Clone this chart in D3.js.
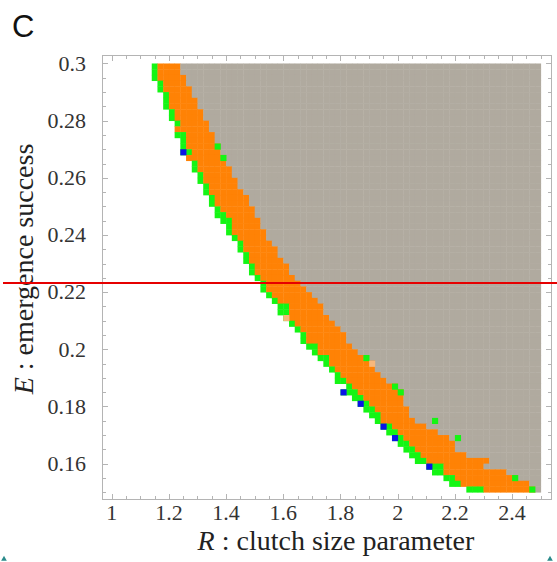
<!DOCTYPE html>
<html>
<head>
<meta charset="utf-8">
<script src="https://cdn.jsdelivr.net/npm/d3@7"></script>
<style>
  body { margin: 0; background: #fff; }
  svg { display: block; }
</style>
</head>
<body>
<svg id="chart" width="557" height="562"></svg>
<script>
(function () {
  "use strict";

  // grid: 75 columns of R (step 0.02 from 1) and 75 rows of E (step 0.002 down from 0.3)
  const R_STEP = 0.02;
  const E_STEP = 0.002;
  const R_START = 1.0;
  const R_END = 2.5;

  // one entry per row, top row (E 0.298..0.300) first: R where the coloured band starts
  const greenFrom = [1.14,1.14,1.14,1.16,1.16,1.18,1.18,1.18,1.20,1.20,1.22,1.22,1.22,1.24,1.24,1.24,1.26,1.28,1.28,1.30,
    1.30,1.32,1.32,1.34,1.34,1.36,1.36,1.38,1.40,1.40,1.42,1.44,1.44,1.46,1.46,1.48,1.48,1.50,1.52,1.52,
    1.54,1.56,1.58,1.58,1.60,1.62,1.64,1.66,1.66,1.68,1.70,1.72,1.74,1.76,1.78,1.78,1.82,1.80,1.84,1.86,
    1.88,1.90,1.92,1.94,1.96,1.98,2.00,2.02,2.04,2.06,2.10,2.12,2.16,2.18,2.24];
  // R where orange starts
  const orangeFrom = [1.16,1.16,1.16,1.18,1.18,1.20,1.20,1.20,1.22,1.22,1.24,1.22,1.26,1.26,1.26,1.28,1.26,1.30,1.30,1.32,
    1.32,1.34,1.34,1.36,1.36,1.38,1.40,1.42,1.42,1.42,1.44,1.46,1.46,1.48,1.48,1.50,1.50,1.52,1.54,1.54,
    1.56,1.58,1.62,1.62,1.62,1.64,1.66,1.68,1.68,1.72,1.72,1.76,1.76,1.78,1.80,1.82,1.84,1.86,1.88,1.90,
    1.92,1.94,1.94,1.98,2.00,2.02,2.04,2.06,2.08,2.10,2.16,2.16,2.20,2.22,2.30];
  // R where grey starts
  const grayFrom = [1.24,1.24,1.26,1.26,1.28,1.28,1.30,1.30,1.32,1.32,1.34,1.34,1.36,1.36,1.38,1.38,1.40,1.40,1.42,1.42,
    1.44,1.44,1.46,1.48,1.48,1.50,1.50,1.52,1.52,1.54,1.54,1.56,1.58,1.58,1.60,1.62,1.62,1.64,1.66,1.68,
    1.70,1.72,1.74,1.74,1.76,1.78,1.80,1.82,1.82,1.84,1.86,1.90,1.92,1.92,1.94,1.96,2.00,2.02,2.02,2.02,
    2.04,2.04,2.06,2.10,2.14,2.18,2.20,2.20,2.24,2.32,2.30,2.38,2.42,2.46,2.48];

  // single cells, [R left edge, E top edge]
  const strayGreen = [[1.36,0.272],[1.38,0.268],[1.88,0.198],[1.98,0.188],[2.00,0.186],[2.12,0.176],[2.20,0.170],[2.40,0.156],[2.46,0.152]];
  const blueCells = [[1.24,0.270],[1.80,0.186],[1.86,0.182],[1.94,0.174],[1.98,0.170],[2.10,0.160]];
  const paleCells = [[1.60,0.212],[1.90,0.196]];

  const xTicks = [1, 1.2, 1.4, 1.6, 1.8, 2, 2.2, 2.4];
  const yTicks = [0.16, 0.18, 0.2, 0.22, 0.24, 0.26, 0.28, 0.3];
  const redLineE = 0.2232;

  const COLORS = {
    green: "#14f514",
    orange: "#ff8205",
    gray: "#b0aa9f",
    blue: "#0a14e6",
    pale: "#f7b77a",
    frame: "#b4b4b4",
    text: "#333"
  };

  const svg = d3.select("#chart");
  const frame = { left: 102, right: 551, top: 55, bottom: 499 };

  // 1 -> 111.7px, 286px per unit of R
  const x = d3.scaleLinear().domain([0.9661, 2.5360]).range([frame.left, frame.right]);
  const y = d3.scaleLinear().domain([0.14762, 0.30297]).range([frame.bottom, frame.top]);

  svg.append("rect").attr("width", 557).attr("height", 562).attr("fill", "#fff");

  // build cell list
  const cells = [];
  const nCols = Math.round((R_END - R_START) / R_STEP);
  greenFrom.forEach((g, i) => {
    const eTop = 0.3 - E_STEP * i;
    const c0 = Math.round((g - R_START) / R_STEP);
    const cO = Math.round((orangeFrom[i] - R_START) / R_STEP);
    const cG = Math.round((grayFrom[i] - R_START) / R_STEP);
    for (let c = c0; c < nCols; c++) {
      const kind = c < cO ? "green" : (c < cG ? "orange" : "gray");
      cells.push({ r: R_START + c * R_STEP, e: eTop, kind });
    }
  });
  strayGreen.forEach(([r, e]) => cells.push({ r, e, kind: "green" }));
  blueCells.forEach(([r, e]) => cells.push({ r, e, kind: "blue" }));
  paleCells.forEach(([r, e]) => cells.push({ r, e, kind: "pale" }));

  svg.append("g").attr("class", "cells")
    .selectAll("rect")
    .data(cells)
    .join("rect")
    .attr("x", (d) => x(d.r))
    .attr("y", (d) => y(d.e))
    .attr("width", (d) => x(d.r + R_STEP) - x(d.r) + 0.4)
    .attr("height", (d) => y(d.e - E_STEP) - y(d.e) + 0.4)
    .attr("fill", (d) => COLORS[d.kind]);

  // frame
  svg.append("rect")
    .attr("x", frame.left + 0.5).attr("y", frame.top + 0.5)
    .attr("width", frame.right - frame.left).attr("height", frame.bottom - frame.top)
    .attr("fill", "none").attr("stroke", COLORS.frame).attr("stroke-width", 1);

  // ticks on all four sides, pointing inwards
  const xMinor = d3.range(1, 2.5001, 0.05).filter((v) => x(v) < frame.right - 2);
  const yMinor = d3.range(0.15, 0.3001, 0.005);
  const tickG = svg.append("g").attr("stroke", COLORS.frame).attr("stroke-width", 1);
  const isMajorX = (v) => xTicks.some((t) => Math.abs(t - v) < 1e-6);
  const isMajorY = (v) => yTicks.some((t) => Math.abs(t - v) < 1e-6);
  xMinor.forEach((v) => {
    const len = isMajorX(v) ? 5 : 3;
    const px = Math.round(x(v)) + 0.5;
    tickG.append("line").attr("x1", px).attr("x2", px).attr("y1", frame.bottom).attr("y2", frame.bottom - len);
    tickG.append("line").attr("x1", px).attr("x2", px).attr("y1", frame.top + 1).attr("y2", frame.top + 1 + len);
  });
  yMinor.forEach((v) => {
    const len = isMajorY(v) ? 5 : 3;
    const py = Math.round(y(v)) + 0.5;
    tickG.append("line").attr("y1", py).attr("y2", py).attr("x1", frame.left + 1).attr("x2", frame.left + 1 + len);
    tickG.append("line").attr("y1", py).attr("y2", py).attr("x1", frame.right).attr("x2", frame.right - len);
  });

  const serif = "'Liberation Serif', 'DejaVu Serif', serif";

  svg.append("g")
    .selectAll("text")
    .data(xTicks)
    .join("text")
    .attr("x", (d) => x(d))
    .attr("y", 520)
    .attr("text-anchor", "middle")
    .attr("font-family", serif)
    .attr("font-size", 22)
    .attr("fill", COLORS.text)
    .text((d) => d3.format("~g")(d));

  svg.append("g")
    .selectAll("text")
    .data(yTicks)
    .join("text")
    .attr("x", 86)
    .attr("y", (d) => y(d))
    .attr("dy", "0.33em")
    .attr("text-anchor", "end")
    .attr("font-family", serif)
    .attr("font-size", 22)
    .attr("fill", COLORS.text)
    .text((d) => d3.format("~g")(d));

  // axis titles
  const xTitle = svg.append("text")
    .attr("x", 336).attr("y", 550)
    .attr("text-anchor", "middle")
    .attr("font-family", serif).attr("font-size", 28)
    .attr("fill", "#222");
  xTitle.append("tspan").attr("font-style", "italic").text("R");
  xTitle.append("tspan").text(" : clutch size parameter");

  const yTitle = svg.append("text")
    .attr("transform", "translate(33,269) rotate(-90)")
    .attr("text-anchor", "middle")
    .attr("font-family", serif).attr("font-size", 28)
    .attr("fill", "#222");
  yTitle.append("tspan").attr("font-style", "italic").text("E");
  yTitle.append("tspan").text(" : emergence success");

  // panel letter
  svg.append("text")
    .attr("x", 12).attr("y", 37)
    .attr("font-family", "'Liberation Sans', Arial, sans-serif")
    .attr("font-size", 31)
    .attr("fill", "#111")
    .text("C");

  // threshold line
  svg.append("line")
    .attr("x1", 3).attr("x2", 557)
    .attr("y1", y(redLineE)).attr("y2", y(redLineE))
    .attr("stroke", "#e60000").attr("stroke-width", 2);

  // little corner markers
  const tri = d3.symbol().type(d3.symbolTriangle).size(14);
  [[4, 559], [550, 559]].forEach(([px, py]) => {
    svg.append("path").attr("d", tri()).attr("transform", `translate(${px},${py})`).attr("fill", "#2a8a8a");
  });
})();
</script>
</body>
</html>
